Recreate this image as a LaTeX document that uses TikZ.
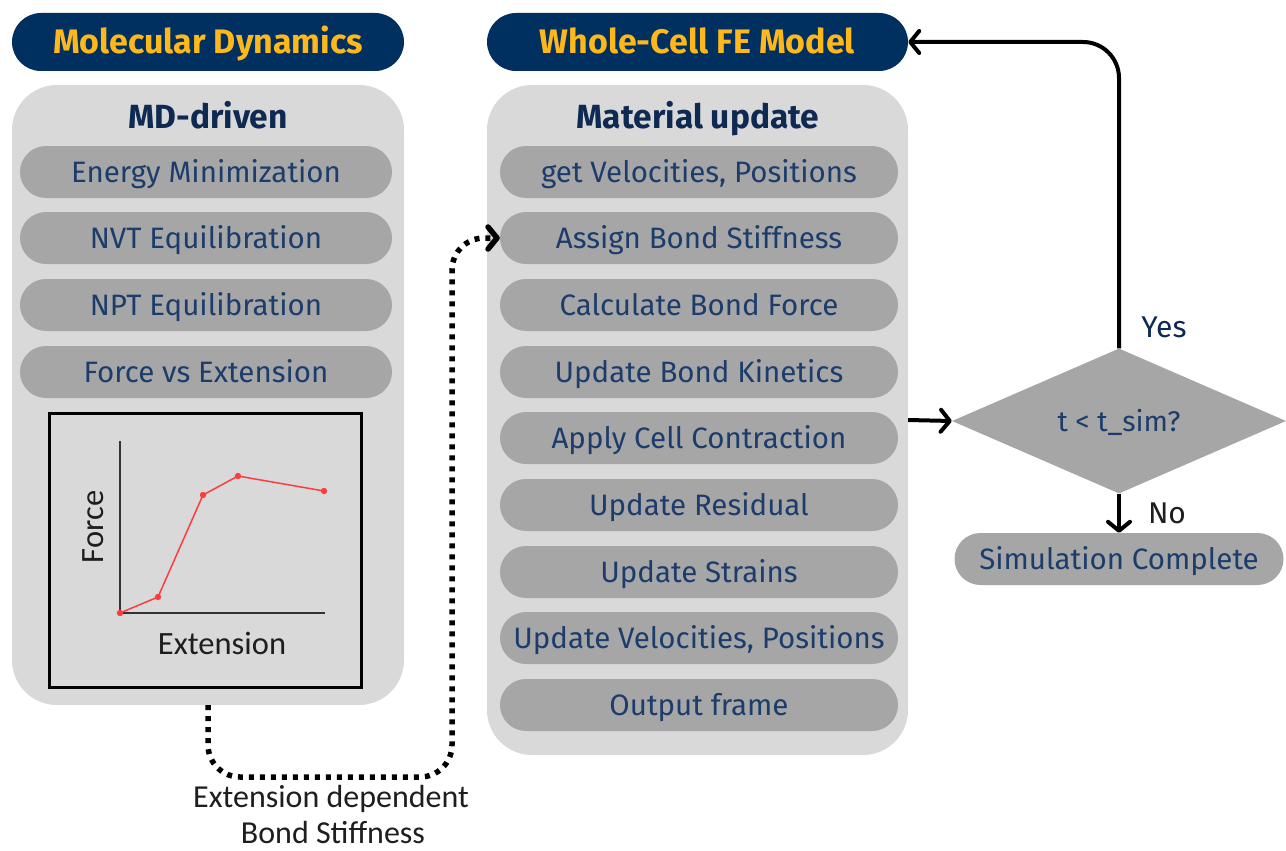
\documentclass[tikz,border=0pt]{standalone}
\usepackage{fontspec}
\setmainfont{Fira Sans}
\newfontfamily\calib{Carlito}
\usetikzlibrary{arrows.meta,shapes.geometric}
\definecolor{navy}{RGB}{0,48,96}
\definecolor{gold}{RGB}{255,184,28}
\definecolor{lightg}{RGB}{217,217,217}
\definecolor{midg}{RGB}{166,166,166}
\definecolor{txtblue}{RGB}{28,60,108}
\definecolor{headblue}{RGB}{14,42,82}
\definecolor{redline}{RGB}{255,60,60}
\definecolor{inkdark}{RGB}{30,30,30}
\begin{document}
\begin{tikzpicture}[x=1pt,y=-1pt,
  pill/.style={fill=navy, rounded corners=29pt, minimum height=58pt, text=gold,
    font=\fontsize{34}{40}\selectfont\bfseries, inner sep=0pt, text height=23pt, text depth=0pt},
  panel/.style={fill=lightg, rounded corners=45pt, inner sep=0pt},
  head/.style={text=headblue, font=\fontsize{33.5}{40}\selectfont\bfseries, inner sep=0pt,
    text height=23pt, text depth=0pt},
  sub/.style={fill=midg, rounded corners=26pt, minimum height=52pt, text=txtblue,
    font=\fontsize{29.5}{35}\selectfont, inner sep=0pt, text height=20pt, text depth=0pt},
  arr/.style={line width=4pt, -{Straight Barb[length=9pt,width=22pt,round]}},
  dotline/.style={line width=5.5pt, dash pattern=on 5pt off 6pt, rounded corners=32pt,
    -{Straight Barb[length=9pt,width=22pt,round]}},
  lbl/.style={text=inkdark, font=\fontsize{30}{36}\selectfont, inner sep=0pt},
  chartlbl/.style={text=inkdark, font=\calib\fontsize{32.5}{38}\selectfont, inner sep=0pt},
  pt/.style={fill=redline, draw=none}
]
\useasboundingbox (0,0) rectangle (1286,851);
\fill[white] (0,0) rectangle (1286,851);

% Left column
\node[pill, minimum width=392pt] (mdtitle) at (208,42) {Molecular Dynamics};
\node[panel, minimum width=392pt, minimum height=620pt] (mdpanel) at (208,395) {};
\node[head] (mdhead) at (208,117) {MD-driven};
\node[sub, minimum width=372pt] (em) at (206,172) {Energy Minimization};
\node[sub, minimum width=372pt] (nvt) at (206,238) {NVT Equilibration};
\node[sub, minimum width=372pt] (npt) at (206,305) {NPT Equilibration};
\node[sub, minimum width=372pt] (fve) at (206,372) {Force vs Extension};

% Chart
\node[draw=black, line width=3pt, minimum width=312pt, minimum height=274pt, inner sep=0pt] (chart) at (205,550) {};
\draw[line width=1.5pt, draw=black!80] (120,441) -- (120,613) -- (325,613);
\draw[line width=1.5pt, draw=redline] (120,613) -- (158,597) -- (203,495) -- (238,476) -- (324,491);
\foreach \p in {(120,613),(158,597),(203,495),(238,476),(324,491)}
  \fill[pt] \p circle (3.2pt);
\node[chartlbl, rotate=90] (force) at (93,527) {Force};
\node[chartlbl] (ext) at (222,643) {Extension};

% Middle column
\node[pill, minimum width=421pt] (fetitle) at (697.5,42) {Whole-Cell FE Model};
\node[panel, minimum width=421pt, minimum height=670pt] (fepanel) at (697.5,420) {};
\node[head] (fehead) at (698,117) {Material update};
\node[sub, minimum width=398pt] (getv) at (699,172) {get Velocities, Positions};
\node[sub, minimum width=398pt] (assign) at (699,238) {Assign Bond Stiffness};
\node[sub, minimum width=398pt] (calc) at (699,305) {Calculate Bond Force};
\node[sub, minimum width=398pt] (kin) at (699,372) {Update Bond Kinetics};
\node[sub, minimum width=398pt] (contr) at (699,438) {Apply Cell Contraction};
\node[sub, minimum width=398pt] (resid) at (699,505) {Update Residual};
\node[sub, minimum width=398pt] (strain) at (699,572) {Update Strains};
\node[sub, minimum width=398pt] (updv) at (699,638) {Update Velocities, Positions};
\node[sub, minimum width=398pt] (outf) at (699,705) {Output frame};

% Decision
\node[diamond, fill=midg, minimum width=334pt, minimum height=145pt, inner sep=0pt,
  text=txtblue, font=\fontsize{28.5}{34}\selectfont, text height=20pt, text depth=0pt] (dia) at (1119,421) {t < t\_sim?};
\node[sub, minimum width=329pt] (sim) at (1119,559) {Simulation Complete};

% Connectors
\draw[arr] (fepanel.east) -- (dia.west);
\draw[arr, rounded corners=36pt] (dia.north) |- (fetitle.east);
\draw[arr] (dia.south) -- (sim.north);
\node[lbl, text=headblue] (yes) at (1164,327) {Yes};
\node[lbl] (no) at (1167,513) {No};

\coordinate (dc) at (452,777);
\draw[dotline] (mdpanel.south) |- (dc) |- (assign.west);
\node[lbl, font=\calib\fontsize{32}{38}\selectfont, anchor=base] (extlbl1) at (331,807)
  {Extension dependent};
\node[lbl, font=\calib\fontsize{32}{38}\selectfont, anchor=base] (extlbl2) at (333,843)
  {Bond Stiffness};
\end{tikzpicture}
\end{document}
